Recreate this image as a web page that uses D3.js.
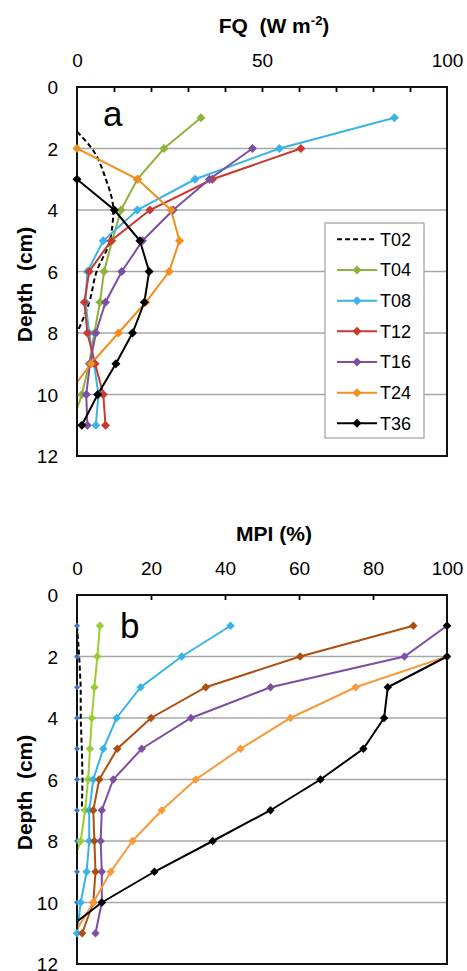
<!DOCTYPE html>
<html><head><meta charset="utf-8">
<script src="https://cdn.jsdelivr.net/npm/d3@7"></script>
<style>html,body{margin:0;padding:0;background:#fff;}svg{display:block;}</style>
</head><body>
<script>
// ---------- data ----------
const depths = [1,2,3,4,5,6,7,8,9,10,11];
const seriesNames = ["T02","T04","T08","T12","T16","T24","T36"];

// Panel a: FQ (W m-2)
const fqT02Depths = [1.45,2,3,4,5,6,7,8];
const fqT02 = [0,4.0,7.8,9.8,8.9,5.3,3.3,0];
const fqT04 = [33.5,23.5,16.3,11.9,9.5,7.3,6.2,4.7,3.3,1.3,-1.5];
const fqT08 = [85.8,54.7,31.9,16.3,7.1,2.8,2.3,3.3,4.6,5.8,5.1];
const fqT12 = [null,60.5,36.6,19.7,9.2,3.3,2.0,2.8,4.9,7.1,7.7];
const fqT16 = [null,47.4,35.8,26.0,17.7,12.1,7.7,5.1,3.5,2.5,2.8];
const fqT24 = [null,0,16.4,25.4,27.7,24.9,18.6,11.2,3.8,-2.5,null];
const fqT36 = [null,null,0,10.1,17.0,19.5,18.2,15.0,10.5,5.6,1.3];

// Panel b: MPI (%)
const mpiT02 = [0,0,0,0,0,0,0,0,0,0,0];
const mpiDashDepths = [1,2,3,4,5,6,7];
const mpiDash = [0,0.6,1.0,1.0,1.3,1.5,1.3];
const mpiT04 = [6.2,5.5,4.7,4.0,3.5,3.0,2.2,1.0,-2.0,null,null];
const mpiT08 = [41.5,28.3,17.2,10.7,7.1,4.4,3.3,3.3,2.6,1.0,0];
const mpiT12 = [90.9,60.3,34.8,20.0,10.9,6.0,4.4,4.7,5.0,4.4,1.4];
const mpiT16 = [100,88.5,52.3,30.8,17.5,9.8,6.7,6.4,6.7,6.7,5.0];
const mpiT24 = [null,100,75.3,57.7,44.2,32.1,22.9,15.0,9.1,4.4,-0.66];
const mpiT36 = [100,100,84.0,83.0,77.4,65.8,52.3,36.7,20.9,6.7,-4.1];

const fqTickLabels = [0,50,100];
const fqMinorTicks = [10,20,30,40,50,60,70,80,90];
const mpiTickLabels = [0,20,40,60,80,100];
const mpiMinorTicks = [20,40,60,80];
const depthTicks = [0,2,4,6,8,10,12];
const gridDepths = [2,4,6,8,10];

const colorsA = {T02:"#000000",T04:"#8DB33C",T08:"#3BB3E6",T12:"#C83A30",T16:"#7D4FA3",T24:"#F08E1E",T36:"#000000"};
const colorsB = {T02:"#4472C4",T04:"#9ACD32",T08:"#36B4E8",T12:"#AE4F10",T16:"#7D4FA3",T24:"#F79A3C",T36:"#000000"};

// ---------- drawing ----------
const W = 467, H = 971;
const FONT = "'Liberation Sans', Arial, sans-serif";
const svg = d3.select("body").append("svg").attr("width", W).attr("height", H)
  .style("font-family", FONT);

function diamond(r){ return `M0,${-r}L${r},0L0,${r}L${-r},0Z`; }

function panel(cfg){
  const x = d3.scaleLinear().domain([0,100]).range([77,447]);
  const y = d3.scaleLinear().domain([0,12]).range([cfg.top, cfg.bottom]);
  const g = svg.append("g");

  // clip
  const cid = "clip"+cfg.id;
  svg.append("clipPath").attr("id", cid).append("rect")
    .attr("x", x(0)).attr("y", y(0)).attr("width", x(100)-x(0)).attr("height", y(12)-y(0));

  // grid
  g.append("g").selectAll("line").data(gridDepths).join("line")
    .attr("x1", x(0)).attr("x2", x(100)).attr("y1", d=>y(d)).attr("y2", d=>y(d))
    .attr("stroke", "#A8A8A8").attr("stroke-width", 1.6);

  // top tick marks (inward)
  const tAx = g.append("g").attr("transform", `translate(0,${y(0)})`)
    .call(d3.axisTop(x).tickValues(cfg.minor).tickSize(-5).tickFormat(""));
  tAx.select(".domain").remove();
  tAx.selectAll("line").attr("stroke","#000").attr("stroke-width",1.8);

  // top labels
  const lAx = g.append("g").attr("transform", `translate(0,${y(0)})`)
    .call(d3.axisTop(x).tickValues(cfg.labels).tickSize(0).tickPadding(cfg.labelPad).tickFormat(d3.format("d")));
  lAx.select(".domain").remove();
  lAx.selectAll("text").attr("font-size", 19).attr("font-family", FONT).attr("fill","#000");

  // left labels
  const yAx = g.append("g").attr("transform", `translate(${x(0)},0)`)
    .call(d3.axisLeft(y).tickValues(depthTicks).tickSize(0).tickPadding(19).tickFormat(d3.format("d")));
  yAx.select(".domain").remove();
  yAx.selectAll("text").attr("font-size", 19).attr("font-family", FONT).attr("fill","#000").attr("dy","0.36em");

  // series lines (clipped)
  const plot = g.append("g").attr("clip-path", `url(#${cid})`);
  const marks = [];
  cfg.series.forEach(s=>{
    const pts = s.values.map((v,i)=>({v, d:s.depths[i]})).filter(p=>p.v!==null);
    const line = d3.line().x(p=>x(p.v)).y(p=>y(p.d)).curve(s.smooth ? d3.curveMonotoneY : d3.curveLinear);
    plot.append("path").attr("d", line(pts)).attr("fill","none")
      .attr("stroke", s.color).attr("stroke-width", s.width || 2)
      .attr("stroke-dasharray", s.dash || null);
    if (s.marker) marks.push({s, pts: pts.filter(p=>p.v>=0 && p.v<=100)});
  });

  // frame
  g.append("rect").attr("x", x(0)).attr("y", y(0)).attr("width", x(100)-x(0)).attr("height", y(12)-y(0))
    .attr("fill","none").attr("stroke","#111").attr("stroke-width",2);

  // markers (not clipped, drawn over frame like the reference)
  marks.forEach(m=>{
    g.append("g").selectAll("path").data(m.pts).join("path")
      .attr("d", diamond(m.s.marker)).attr("transform", p=>`translate(${x(p.v)},${y(p.d)})`)
      .attr("fill", m.s.color);
  });

  // title
  const t = g.append("text").attr("x", 274).attr("y", cfg.titleY).attr("text-anchor","middle")
    .attr("font-size", 21).attr("font-weight","bold");
  cfg.title(t);

  // y label
  g.append("text").attr("transform", `translate(32,${(y(0)+y(12))/2+13}) rotate(-90)`)
    .attr("text-anchor","middle").attr("font-size",21).attr("font-weight","bold")
    .attr("xml:space","preserve").text("Depth  (cm)");

  // panel letter
  g.append("text").attr("x", cfg.letterX).attr("y", cfg.letterY).attr("font-size",35).text(cfg.letter);

  return {x,y,g};
}

function mk(names, arrs, colors, markerR){
  return names.map((n,i)=>({name:n, values:arrs[i], depths:depths, color:colors[n], marker:markerR}));
}

// panel a
const seriesA = [{name:"T02", values:fqT02, depths:fqT02Depths, color:colorsA.T02, dash:"5,3", smooth:true}]
  .concat(mk(seriesNames.slice(1), [fqT04,fqT08,fqT12,fqT16,fqT24,fqT36], colorsA, 4.5));
const pa = panel({id:"a", top:87, bottom:456, minor:fqMinorTicks, labels:fqTickLabels, labelPad:20,
  series:seriesA, titleY:33, letter:"a", letterX:103, letterY:126,
  title: t=>{ t.attr("xml:space","preserve");
    t.append("tspan").text("FQ  (W m");
    t.append("tspan").attr("font-size",13).attr("dy",-8).text("-2");
    t.append("tspan").attr("dy",8).text(")"); }
});

// legend
const lg = pa.g.append("g");
lg.append("rect").attr("x",325).attr("y",223).attr("width",99).attr("height",215)
  .attr("fill","#fff").attr("stroke","#A0A0A0").attr("stroke-width",1.2);
seriesA.forEach((s,i)=>{
  const cy = 239.3 + 30.67*i;
  lg.append("line").attr("x1",337).attr("x2",377).attr("y1",cy).attr("y2",cy)
    .attr("stroke",s.color).attr("stroke-width",2).attr("stroke-dasharray", s.dash||null);
  if (s.marker) lg.append("path").attr("d", diamond(s.marker)).attr("transform",`translate(357,${cy})`).attr("fill",s.color);
  lg.append("text").attr("x",380).attr("y",cy+6.5).attr("font-size",18).text(s.name);
});

// panel b
const seriesB = [{name:"T02", values:mpiT02, depths:depths, color:colorsB.T02, marker:3, width:1.2},
  {name:"T02d", values:mpiDash, depths:mpiDashDepths, color:"#000", dash:"5,3", width:2}]
  .concat(mk(seriesNames.slice(1), [mpiT04,mpiT08,mpiT12,mpiT16,mpiT24,mpiT36], colorsB, 4.2));
panel({id:"b", top:595, bottom:964, minor:mpiMinorTicks, labels:mpiTickLabels, labelPad:20,
  series:seriesB, titleY:541, letter:"b", letterX:120, letterY:638,
  title: t=>{ t.text("MPI (%)"); }
});
</script>
</body></html>
